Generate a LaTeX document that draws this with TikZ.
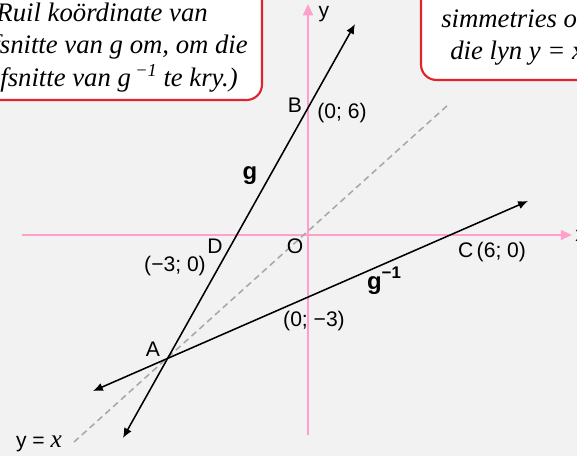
\documentclass[tikz,border=0pt]{standalone}
\usepackage{fontspec}
\setmainfont{Liberation Sans}
\newfontfamily\notefont{Liberation Serif}
\usetikzlibrary{arrows.meta,positioning}
\usepackage{xcolor}
\definecolor{bgGray}{HTML}{F2F2F2}
\definecolor{axPink}{HTML}{FFA0CC}
\definecolor{noteRed}{HTML}{E2232C}
\definecolor{diagGray}{HTML}{A8A8A8}
\tikzset{
    axis/.style={
        draw=axPink,line width=1.5pt,-{Triangle[length=8pt,width=7pt]}
    },
    graphline/.style={
        draw=black,line width=1.1pt,
        {Latex[length=7pt,width=6pt]}-{Latex[length=7pt,width=6pt]}
    },
    mirror/.style={
        draw=diagGray,line width=1.1pt,dash pattern=on 4.5pt off 3pt
    },
    note/.style={
        draw=noteRed,line width=1.5pt,fill=white,rounded corners=11pt
    },
    lbl/.style={font=\fontsize{15}{18}\selectfont,inner sep=0pt},
    notetext/.style={
        font=\notefont\itshape\fontsize{19}{22}\selectfont,inner sep=0pt
    }
}

\begin{document}
\begin{tikzpicture}[x=0.025cm,y=-0.025cm]

\fill[bgGray] (0,0) rectangle (577,456);
\useasboundingbox (0,0) rectangle (577,456);

% notes
\draw[note] (-40,-40) rectangle (262,100);
\draw[note] (421,-40) rectangle (640,80);

\node[notetext,anchor=base east] (ruil1) at (208,21) {(Ruil koördinate van};
\node[notetext,anchor=base east] (ruil2) at (248,53) {afsnitte van g om, om die};
\node[notetext,anchor=base east] (ruil3) at (238,86)
{afsnitte van g\,\raisebox{0.75ex}{\fontsize{13}{13}\selectfont −1} te kry.)};
\node[notetext,anchor=base west] (sim1) at (441,27) {simmetries om};
\node[notetext,anchor=base west] (sim2) at (450,59) {die lyn y = x};

% axes
\coordinate (xleft) at (22,235);
\coordinate (xright) at (572,235);
\coordinate (ybottom) at (308,435);
\coordinate (ytop) at (308,4);
\draw[axis] (xleft) -- (xright);
\draw[axis] (ybottom) -- (ytop);
\node[lbl,anchor=west] (xlab) at (575,236) {x};
\node[lbl] (ylab) at (324,14) {y};

% y = x
\coordinate (diaglow) at (74,442);
\coordinate (diaghigh) at (449,104);
\draw[mirror] (diaglow) -- (diaghigh);
\node[lbl] (diaglab) at (39,444) {y = {\notefont\itshape\fontsize{18}{18}\selectfont x}};

% g and its inverse
\coordinate (glow) at (123,438);
\coordinate (ghigh) at (355,24);
\coordinate (invlow) at (93,391);
\coordinate (invhigh) at (528,201);
\draw[graphline] (glow) -- (ghigh);
\draw[graphline] (invlow) -- (invhigh);

\node[lbl,font=\fontsize{17}{18}\selectfont\bfseries,anchor=base] (glab) at (250,179) {g};
\node[lbl,font=\fontsize{17}{18}\selectfont\bfseries,anchor=base] (invlab) at (384,289)
{g\raisebox{0.8ex}{\fontsize{12}{12}\selectfont −1}};

% points
\node[lbl] (ptB) at (295,105) {B};
\node[lbl] (coB) at (342,113) {(0; 6)};
\node[lbl] (ptD) at (215,246) {D};
\node[lbl] (coD) at (175,266) {(−3; 0)};
\node[lbl] (ptO) at (295,246) {O};
\node[lbl] (coE) at (314,321) {(0; −3)};
\node[lbl] (ptC) at (492,252) {C\,(6; 0)};
\node[lbl] (ptA) at (153,349) {A};

\end{tikzpicture}
\end{document}
